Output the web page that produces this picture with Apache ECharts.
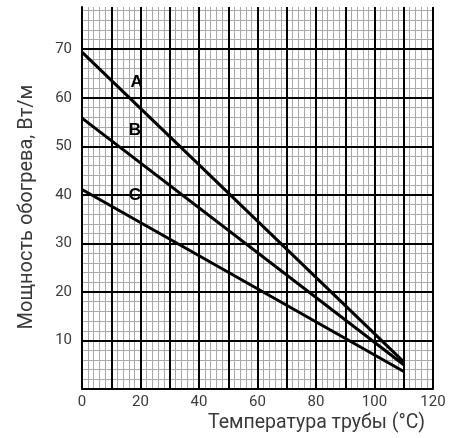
<!DOCTYPE html>
<html><head><meta charset="utf-8">
<script src="https://cdn.jsdelivr.net/npm/echarts@6/dist/echarts.min.js"></script>
<style>html,body{margin:0;padding:0;background:#fff}#c{width:457px;height:438px}</style>
</head><body><div id="c"></div>
<script>
const temperature = [0, 110];
const powerA = [69.4, 5.6];
const powerB = [55.8, 5.0];
const powerC = [41.1, 3.6];
const curveNames = ['A', 'B', 'C'];
const curveLabelTemp = [18.7, 18.1, 18.1];
const curveLabelPower = [63.2, 53.3, 39.9];
const xTicks = [0, 20, 40, 60, 80, 100, 120];
const yTicks = [10, 20, 30, 40, 50, 60, 70];
const xName = 'Температура трубы (°C)';
const yName = 'Мощность обогрева, Вт/м';

const chart = echarts.init(document.getElementById('c'), null, {renderer: 'canvas'});
const font = 'Roboto, "Liberation Sans", sans-serif';
const textColor = '#3a3a3a';
const minorLine = {show: true, showMaxLine: false, lineStyle: {color: '#a9a9a9', width: 1}};
const majorLine = {show: true, showMaxLine: false, lineStyle: {color: '#000', width: 2}};
const hidden = {axisLine: {show: false}, axisTick: {show: false}, axisLabel: {show: false}};

const series = [powerA, powerB, powerC].map((vals, k) => ({
  type: 'line', name: curveNames[k], xAxisIndex: 1, yAxisIndex: 1,
  data: temperature.map((t, i) => [t, vals[i]]),
  symbol: 'none', z: 5,
  lineStyle: {color: '#000', width: 3, cap: 'butt'}
}));
series.push({
  type: 'scatter', xAxisIndex: 1, yAxisIndex: 1, symbolSize: 0, z: 6,
  itemStyle: {color: '#000', opacity: 0},
  data: curveNames.map((n, i) => ({name: n, value: [curveLabelTemp[i], curveLabelPower[i]]})),
  label: {show: true, position: 'inside', formatter: '{b}', color: '#000', opacity: 1,
          fontWeight: 'bold', textBorderWidth: 0, textBorderColor: 'transparent',
          fontSize: 17, fontFamily: '"Liberation Sans", Arial, sans-serif'}
});

chart.setOption({
  animation: false,
  backgroundColor: '#fff',
  grid: {left: 82, right: 24, top: 7, bottom: 49},
  xAxis: [
    Object.assign({type: 'value', min: 0, max: 120, interval: 2, position: 'bottom', z: 0,
                   splitLine: minorLine}, hidden),
    {type: 'value', min: 0, max: 120, interval: 10, position: 'bottom', z: 1,
     axisLine: {show: true, onZero: false, lineStyle: {color: '#000', width: 2}},
     axisTick: {show: false},
     axisLabel: {margin: 6, color: textColor, fontSize: 15, fontFamily: font,
                 formatter: v => xTicks.includes(v) ? String(v) : ''},
     splitLine: {show: true, lineStyle: {color: '#000', width: 2}}}
  ],
  yAxis: [
    Object.assign({type: 'value', min: 0, max: 78.7, interval: 2, position: 'left', z: 0,
                   splitLine: minorLine}, hidden),
    {type: 'value', min: 0, max: 78.7, interval: 10, position: 'left', z: 1,
     axisLine: {show: true, onZero: false, lineStyle: {color: '#000', width: 2}},
     axisTick: {show: false},
     axisLabel: {margin: 10, color: textColor, fontSize: 15, fontFamily: font,
                 showMaxLabel: false,
                 formatter: v => yTicks.includes(v) ? String(v) : ''},
     splitLine: majorLine}
  ],
  graphic: [
    {type: 'text', right: 32, top: 413, style: {text: xName, fill: textColor, font: '19.5px ' + font}},
    {type: 'text', x: 27, y: 207, rotation: Math.PI / 2,
     style: {text: yName, fill: textColor, font: '20px ' + font, align: 'center', verticalAlign: 'middle'}}
  ],
  series: series
});
</script></body></html>
